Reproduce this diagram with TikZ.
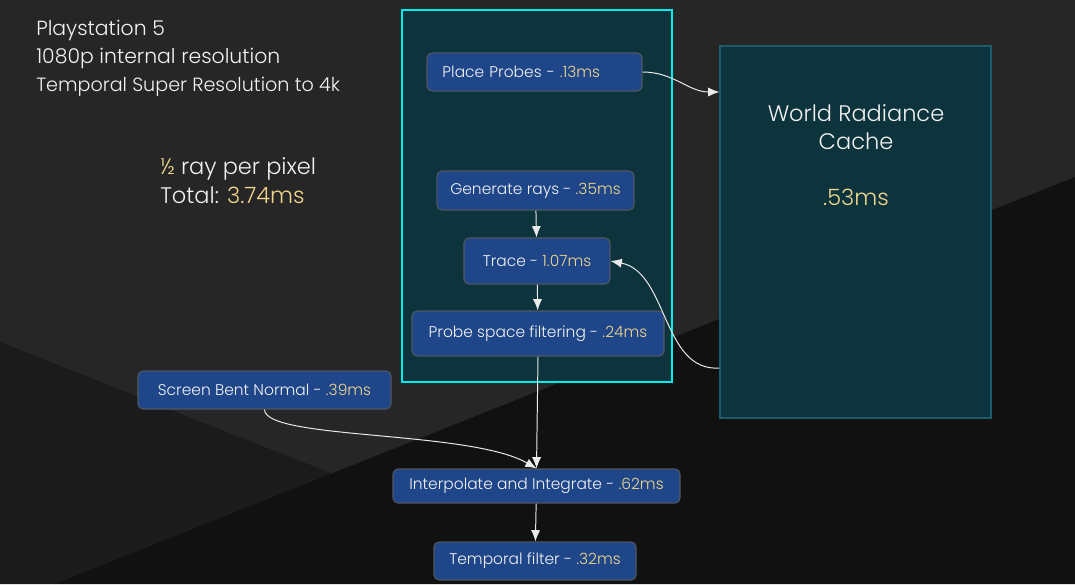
\documentclass[tikz,border=0pt]{standalone}
\usepackage{fontspec}
\setmainfont{Poppins}[UprightFont=* Light]
\usetikzlibrary{arrows.meta}
\definecolor{bgtop}{HTML}{262626}
\definecolor{bgmid}{HTML}{1B1B1B}
\definecolor{bgdark}{HTML}{111111}
\definecolor{panel}{HTML}{0D343D}
\definecolor{panelcyan}{HTML}{00EEEE}
\definecolor{cacheedge}{HTML}{1C5A6C}
\definecolor{stageblue}{HTML}{1E4689}
\definecolor{stageedge}{HTML}{4E5661}
\definecolor{wire}{HTML}{EAEAEA}
\definecolor{msgold}{HTML}{F0D68C}
\definecolor{lighttext}{HTML}{F2F2F2}
\newcommand{\tm}[1]{\textcolor{msgold}{#1}}
\begin{document}
\begin{tikzpicture}[x=0.025cm,y=-0.025cm,font=\fontsize{11pt}{13pt}\selectfont,text=lighttext,
  stage/.style={draw=stageedge,fill=stageblue,rounded corners=3.5pt,line width=0.8pt,inner sep=0pt},
  flow/.style={draw=wire,line width=0.7pt,-{Latex[length=8pt,width=6.5pt]}},
  head/.style={anchor=base west,inner sep=0pt}]
\useasboundingbox (0,0) rectangle (1075,584);
% background
\fill[bgtop] (0,0) rectangle (1075,584);
\fill[bgmid] (0,342) -- (333,474) -- (55,584) -- (0,584) -- cycle;
\fill[bgdark] (1075,177) -- (1075,584) -- (55,584) -- cycle;
% headline text
\node[head,font=\fontsize{14.5pt}{17pt}\selectfont] (ps) at (36,36) {Playstation 5};
\node[head,font=\fontsize{14.5pt}{17pt}\selectfont] (res) at (36,64) {1080p internal resolution};
\node[head,font=\fontsize{13.6pt}{16pt}\selectfont] (tsr) at (36,92) {Temporal Super Resolution to 4k};
\node[head,font=\fontsize{16pt}{19pt}\selectfont] (rpp) at (160,175) {\tm{½} ray per pixel};
\node[head,font=\fontsize{16pt}{19pt}\selectfont] (total) at (160,203) {Total: \tm{3.74ms}};
% probe group and cache
\draw[panelcyan,fill=panel,line width=0.9pt] (402,10) rectangle (672,382);
\node[draw=cacheedge,fill=panel,line width=0.8pt,minimum width=6.775cm,minimum height=9.3cm] (wrc) at (855.5,232) {};
\node[align=center,font=\fontsize{16pt}{20pt}\selectfont] (wrctitle) at (856,127) {World Radiance\\Cache};
\node[font=\fontsize{16pt}{18pt}\selectfont,text=msgold] (wrcms) at (856,197) {.53ms};
% stages
\node[stage,minimum width=5.375cm,minimum height=0.95cm,text width=4.6cm,align=left] (pp) at (534.5,72) {Place Probes - \tm{.13ms}};
\foreach \n/\x/\y/\w/\h/\t in {gen/535.5/190.5/4.925/0.975/{Generate rays - \tm{.35ms}},
    trace/537/261/3.65/1.15/{Trace - \tm{1.07ms}},
    psf/538/333.5/6.3/1.125/{Probe space filtering - \tm{.24ms}},
    sbn/264.5/390/6.325/0.95/{Screen Bent Normal - \tm{.39ms}},
    interp/536.5/486/7.175/0.85/{Interpolate and Integrate - \tm{.62ms}},
    tf/535/561/5.05/0.95/{Temporal filter - \tm{.32ms}}}
  \node[stage,minimum width=\w cm,minimum height=\h cm] (\n) at (\x,\y) {\t};
% connectors
\coordinate (wrcin) at (wrc.west |- 0,92);
\coordinate (wrcout) at (wrc.west |- 0,368);
\draw[flow] (pp.east) to[out=0,in=180] (wrcin);
\draw[flow] (gen) -- (trace);
\draw[flow] (trace) -- (psf);
\draw[flow] (wrcout) .. controls (662,372) and (668,272) .. (trace.east);
\draw[flow] (psf.south) -- (interp.north);
\draw[flow] (sbn.south) .. controls (265,440) and (470,430) .. (interp.north);
\draw[flow] (interp) -- (tf);
\end{tikzpicture}
\end{document}
